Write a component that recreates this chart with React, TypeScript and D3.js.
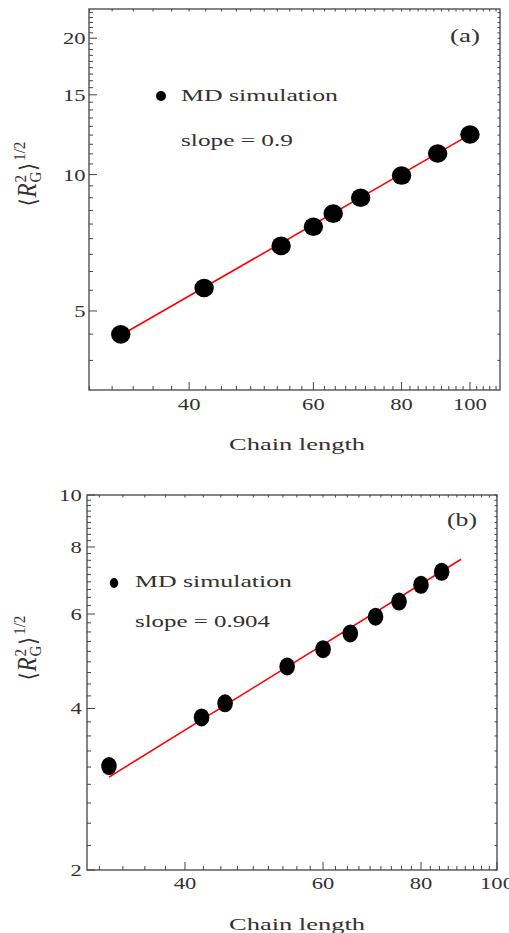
import React from 'react';
import * as d3 from 'd3';

// ---------- data ----------
const chainA = [32, 42, 54, 60, 64, 70, 80, 90, 100];
const rgA = [4.44, 5.62, 6.96, 7.67, 8.2, 8.89, 9.95, 11.13, 12.26];
const fitChainA = [32, 100];
const fitRgA = [4.42, 12.25];

const chainB = [32, 42, 45, 54, 60, 65, 70, 75, 80, 85];
const rgB = [3.125, 3.85, 4.09, 4.79, 5.16, 5.52, 5.93, 6.33, 6.8, 7.19];
const fitChainB = [32, 90];
const fitRgB = [2.98, 7.59];

const xMajorA = [40, 60, 80, 100];
const yMajorA = [5, 10, 15, 20];
const xMajorB = [40, 60, 80, 100];
const yMajorB = [2, 4, 6, 8, 10];

const legendText = 'MD simulation';
const slopeTextA = 'slope = 0.9';
const slopeTextB = 'slope = 0.904';
const xTitle = 'Chain length';

// ---------- style ----------
const FONT = '"Liberation Serif", "Times New Roman", serif';
const INK = '#353030';
const FRAME = '#444';
const FS = 17.5;
const DIGIT_W = 11.3;

type Cfg = {
  left: number; right: number; top: number; bottom: number;
  xDom: [number, number]; yDom: [number, number];
  xMajor: number[]; yMajor: number[]; xStep: number; yStep: number;
  chain: number[]; rg: number[]; fitChain: number[]; fitRg: number[];
  rx: number; ry: number;
  yLabOff: number; xLabBase: number;
  legDot: [number, number, number, number]; legX: number; legBase1: number; legBase2: number;
  slopeText: string; slopeW: number;
  tag: string; tagX: number; tagBase: number;
  titleBase: number; yTitleX: number; yTitleY: number;
};

function ticks(dom: [number, number], step: number) {
  const out: { v: number; major: boolean }[] = [];
  const kmin = Math.floor((dom[0] / step) * 9) - 1;
  const kmax = Math.ceil((dom[1] / step) * 9) + 1;
  for (let k = kmin; k <= kmax; k++) {
    const v = (k * step) / 9;
    if (v <= 0) continue;
    if (v < dom[0] * 0.9999 || v > dom[1] * 1.0001) continue;
    out.push({ v, major: k % 9 === 0 });
  }
  return out;
}

function Panel({ c }: { c: Cfg }) {
  const x = d3.scaleLog().domain(c.xDom).range([c.left, c.right]);
  const y = d3.scaleLog().domain(c.yDom).range([c.bottom, c.top]);
  const xt = ticks(c.xDom, c.xStep);
  const yt = ticks(c.yDom, c.yStep);
  const line = d3.line<number>().x((d, i) => x(c.fitChain[i])).y((d) => y(d));
  const W = c.right - c.left;
  const H = c.bottom - c.top;
  return (
    <g>
      {xt.map((t, i) => {
        const px = x(t.v);
        const len = t.major ? 8 : 4;
        return (
          <g key={'xt' + i}>
            <line x1={px} x2={px} y1={c.bottom} y2={c.bottom - len} stroke={FRAME} strokeWidth={1} />
            <line x1={px} x2={px} y1={c.top} y2={c.top + 2.5} stroke={FRAME} strokeWidth={1} />
          </g>
        );
      })}
      {yt.map((t, i) => {
        const py = y(t.v);
        const len = t.major ? 8 : 4;
        return (
          <g key={'yt' + i}>
            <line x1={c.left} x2={c.left + len} y1={py} y2={py} stroke={FRAME} strokeWidth={1} />
            <line x1={c.right} x2={c.right - 2.5} y1={py} y2={py} stroke={FRAME} strokeWidth={1} />
          </g>
        );
      })}
      <rect x={c.left} y={c.top} width={W} height={H} fill="none" stroke={FRAME} strokeWidth={1.3} />
      {c.xMajor.map((v) => (
        <text key={'xl' + v} x={x(v)} y={c.xLabBase} textAnchor="middle" fontFamily={FONT} fontSize={FS}
          fill={INK} textLength={String(v).length * DIGIT_W} lengthAdjust="spacingAndGlyphs">{v}</text>
      ))}
      {c.yMajor.map((v) => (
        <text key={'yl' + v} x={c.left - c.yLabOff} y={y(v) + 6} textAnchor="end" fontFamily={FONT} fontSize={FS}
          fill={INK} textLength={String(v).length * DIGIT_W} lengthAdjust="spacingAndGlyphs">{v}</text>
      ))}
      <path d={line(c.fitRg) || ''} fill="none" stroke="#ff0000" strokeWidth={1.6} />
      {c.chain.map((n, i) => (
        <ellipse key={'p' + i} cx={x(n)} cy={y(c.rg[i])} rx={c.rx} ry={c.ry} fill="#000" />
      ))}
      <ellipse cx={c.legDot[0]} cy={c.legDot[1]} rx={c.legDot[2]} ry={c.legDot[3]} fill="#000" />
      <text x={c.legX} y={c.legBase1} fontFamily={FONT} fontSize={FS} fill={INK} textLength={157}
        lengthAdjust="spacingAndGlyphs">{legendText}</text>
      <text x={c.legX} y={c.legBase2} fontFamily={FONT} fontSize={FS} fill={INK} textLength={c.slopeW}
        lengthAdjust="spacingAndGlyphs">{c.slopeText}</text>
      <text x={c.tagX} y={c.tagBase} fontFamily={FONT} fontSize={FS + 1} fill={INK} textLength={30}
        lengthAdjust="spacingAndGlyphs">{c.tag}</text>
      <text x={229} y={c.titleBase} fontFamily={FONT} fontSize={FS} fill={INK} textLength={136}
        lengthAdjust="spacingAndGlyphs">{xTitle}</text>
      <g transform={`translate(${c.yTitleX},${c.yTitleY}) rotate(-90) scale(1,1.15)`}>
        <text x={0} y={0} textAnchor="middle" fontFamily={FONT} fontSize={23} fill={INK}>
          <tspan fontFamily='"DejaVu Serif", serif' fontSize={20} fontWeight={300}>⟨</tspan>
          <tspan fontStyle="italic" dx={1}>R</tspan>
          <tspan fontSize={15} dy={-9} dx={1}>2</tspan>
          <tspan fontSize={15} dx={-7.5} dy={13}>G</tspan>
          <tspan fontFamily='"DejaVu Serif", serif' fontSize={20} dy={-4} dx={1}>⟩</tspan>
          <tspan fontSize={15} dy={-10} dx={2}>1/2</tspan>
        </text>
      </g>
    </g>
  );
}

const cfgA: Cfg = {
  left: 89, right: 500, top: 9, bottom: 390,
  xDom: [28.85, 110.3], yDom: [3.346, 23.2],
  xMajor: xMajorA, yMajor: yMajorA, xStep: 20, yStep: 5,
  chain: chainA, rg: rgA, fitChain: fitChainA, fitRg: fitRgA,
  rx: 9.7, ry: 9.3,
  yLabOff: 3.5, xLabBase: 410,
  legDot: [161, 96, 5, 5], legX: 181, legBase1: 101, legBase2: 146,
  slopeText: slopeTextA, slopeW: 112,
  tag: '(a)', tagX: 450, tagBase: 42,
  titleBase: 450, yTitleX: 36, yTitleY: 174,
};

const cfgB: Cfg = {
  left: 87, right: 497, top: 495, bottom: 870,
  xDom: [30, 100], yDom: [2, 10],
  xMajor: xMajorB, yMajor: yMajorB, xStep: 20, yStep: 2,
  chain: chainB, rg: rgB, fitChain: fitChainB, fitRg: fitRgB,
  rx: 7.8, ry: 9,
  yLabOff: 5.3, xLabBase: 889,
  legDot: [114, 583, 4.2, 5], legX: 135, legBase1: 587, legBase2: 627,
  slopeText: slopeTextB, slopeW: 135,
  tag: '(b)', tagX: 447, tagBase: 526,
  titleBase: 930, yTitleX: 36, yTitleY: 648,
};

export default function App() {
  return (
    <svg width={509} height={933} viewBox="0 0 509 933"
      style={{ position: 'absolute', left: 0, top: 0, background: '#fff' }}>
      <rect x={0} y={0} width={509} height={933} fill="#fff" />
      <Panel c={cfgA} />
      <Panel c={cfgB} />
    </svg>
  );
}
